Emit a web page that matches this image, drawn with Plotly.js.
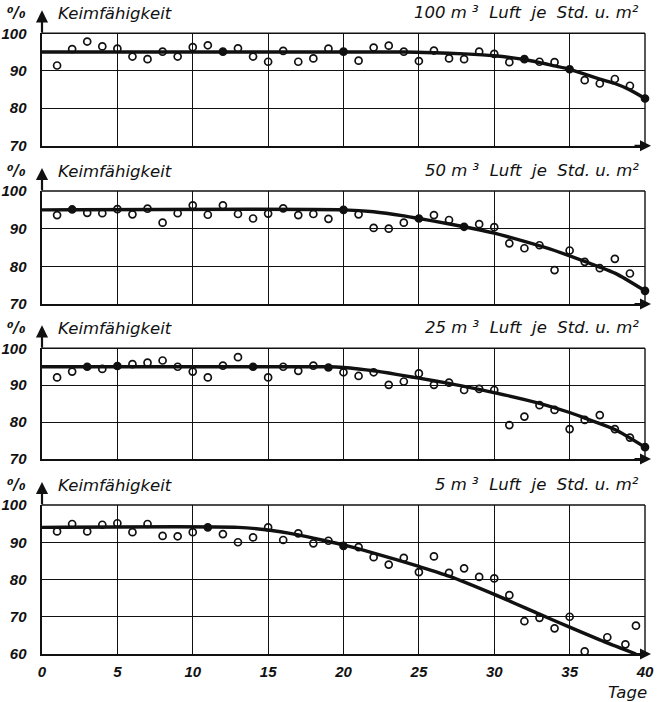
<!DOCTYPE html>
<html><head><meta charset="utf-8">
<script src="https://cdn.plot.ly/plotly-3.0.1.min.js"></script>
<style>html,body{margin:0;padding:0;background:#fff}#chart{width:657px;height:702px}</style>
</head><body><div id="chart"></div>
<script>
// ---- data ----
const panelTitles = ["100 m ³  Luft  je  Std. u. m²", "50 m ³  Luft  je  Std. u. m²", "25 m ³  Luft  je  Std. u. m²", "5 m ³  Luft  je  Std. u. m²"];
const yLabel = "Keimfähigkeit";
const unitLabel = "⁰/₀";
const xLabel = "Tage";
const xTicks = [0, 5, 10, 15, 20, 25, 30, 35, 40];
const yTicksTop = [70, 80, 90, 100];
const yTicksBottom = [60, 70, 80, 90, 100];

const days = [1,2,3,4,5,6,7,8,9,10,11,12,13,14,15,16,17,18,19,20,21,22,23,24,25,26,27,28,29,30,31,32,33,34,35,36,37,38,39,40];
const days4 = [1,2,3,4,5,6,7,8,9,10,11,12,13,14,15,16,17,18,19,20,21,22,23,24,25,26,27,28,29,30,31,32,33,34,35,36,37.5,38.7,39.4];

const vals100 = [91.4,95.8,97.8,96.5,95.9,93.8,93.1,95.1,93.8,96.3,96.8,95.1,96.0,93.8,92.4,95.3,92.4,93.3,95.9,95.1,92.7,96.2,96.7,95.1,92.6,95.4,93.3,93.1,95.1,94.5,92.3,93.1,92.4,92.3,90.4,87.5,86.6,87.8,86.0,82.6];
const vals50 = [93.6,95.1,94.2,94.1,95.2,93.8,95.3,91.6,94.1,96.2,93.7,96.2,93.9,92.7,94.0,95.4,93.6,93.9,92.6,95.0,93.8,90.2,90.0,91.6,92.7,93.6,92.3,90.5,91.2,90.4,86.1,84.8,85.6,79.0,84.2,81.2,79.5,82.0,78.1,73.5];
const vals25 = [92.1,93.7,95.0,94.4,95.2,95.7,96.1,96.7,95.0,93.7,92.1,95.3,97.6,95.0,92.1,95.0,93.9,95.3,94.8,93.5,92.5,93.5,90.1,91.0,93.2,90.1,90.7,88.7,89.0,88.7,79.2,81.5,84.6,83.3,78.1,80.6,81.9,78.1,75.8,73.2];
const vals5 = [92.9,94.9,92.9,94.7,95.1,92.7,94.9,91.7,91.6,92.7,94.0,92.2,90.0,91.3,94.0,90.6,92.4,89.7,90.4,89.0,88.7,86.0,84.0,85.8,82.0,86.2,81.8,83.0,80.7,80.3,75.8,68.8,69.7,66.9,70.0,60.7,64.5,62.6,67.6];

// points drawn filled (lying on the curve)
const filled100 = [12, 20, 32, 35, 40];
const filled50 = [2, 20, 25, 28, 40];
const filled25 = [3, 5, 14, 19, 40];
const filled5 = [11, 20];

// fitted curves
const curveX100 = [0,20,24,26,28,30,32,34,35,36,37,38,39,40];
const curveY100 = [95,95,95,94.8,94.5,94.0,93.0,91.3,90.4,89.1,87.8,86.6,84.9,82.6];
const curveX50 = [0,20,22,24,25,26,28,30,32,34,36,38,40];
const curveY50 = [95,95,94.5,93.4,92.7,92.0,90.5,88.8,86.6,84.2,81.3,78.2,73.5];
const curveX25 = [0,19,20,21,22,23,24,25,27,28,30,33,35,36,38,40];
const curveY25 = [95,95,94.8,94.4,93.9,93.3,92.6,91.9,90.5,89.7,88.0,85.1,82.6,81.1,78.0,73.2];
const curveX5 = [0,13,15,17,19,20,22,25,27,30,33,35,37,39.4];
const curveY5 = [94,94,93.3,92.0,90.2,89.3,87.1,83.5,80.9,76.0,70.7,67.2,63.8,60];

// ---- build ----
const panels = [
  {x: days, y: vals100, f: filled100, cx: curveX100, cy: curveY100, ticks: yTicksTop},
  {x: days, y: vals50, f: filled50, cx: curveX50, cy: curveY50, ticks: yTicksTop},
  {x: days, y: vals25, f: filled25, cx: curveX25, cy: curveY25, ticks: yTicksTop},
  {x: days4, y: vals5, f: filled5, cx: curveX5, cy: curveY5, ticks: yTicksBottom}
];

const H = 702, mt = 33, mb = 48, plotH = H - mt - mb;
const pxTop = [33.3, 191, 348.3, 505];
const pxBot = [145.7, 304, 459, 654];
const frac = p => (H - mb - p) / plotH;

const ink = "#111";
const tickFont = {family: "Liberation Sans", size: 15, color: ink, weight: "bold", style: "italic"};
const textFont = {family: "DejaVu Sans", size: 16.5, color: ink, style: "italic"};

const traces = [];
const layout = {
  width: 657, height: 702,
  margin: {l: 42, r: 12, t: mt, b: mb},
  paper_bgcolor: "#fff", plot_bgcolor: "#fff",
  showlegend: false,
  annotations: [], shapes: []
};

panels.forEach((p, i) => {
  const n = i + 1;
  const xa = n === 1 ? "x" : "x" + n;
  const ya = n === 1 ? "y" : "y" + n;
  const last = i === 3;
  traces.push({
    type: "scatter", mode: "lines", x: p.cx, y: p.cy, xaxis: xa, yaxis: ya,
    line: {color: ink, width: 3.4, shape: "spline", smoothing: 0.7},
    cliponaxis: false, hoverinfo: "skip"
  });
  traces.push({
    type: "scatter", mode: "markers", x: p.x, y: p.y, xaxis: xa, yaxis: ya,
    marker: {
      symbol: p.x.map(d => p.f.includes(d) ? "circle" : "circle-open"),
      size: 7, color: ink, line: {color: ink, width: 1.7}
    },
    cliponaxis: false
  });
  const yr = last ? [60, 100] : [70, 100];
  layout["xaxis" + (n === 1 ? "" : n)] = {
    domain: [0, 1], anchor: ya, range: [0, 40],
    tickvals: xTicks, ticktext: xTicks.map(String),
    showticklabels: last, tickfont: tickFont, ticks: "", ticklabelstandoff: 3,
    showgrid: true, gridcolor: ink, gridwidth: 1.2,
    showline: true, linecolor: ink, linewidth: 2, zeroline: false, fixedrange: true
  };
  layout["yaxis" + (n === 1 ? "" : n)] = {
    domain: [frac(pxBot[i]), frac(pxTop[i])], anchor: xa, range: yr,
    tickvals: p.ticks, ticktext: p.ticks.map(String),
    tickfont: tickFont, ticks: "", ticklabelstandoff: 10,
    showgrid: true, gridcolor: ink, gridwidth: 1.2,
    showline: true, linecolor: ink, linewidth: 2.5, zeroline: false, fixedrange: true
  };
  const top = frac(pxTop[i]);
  const bot = frac(pxBot[i]);
  // border top and right
  layout.shapes.push({type: "line", xref: "paper", yref: "paper", x0: 0, x1: 1, y0: top, y1: top, line: {color: ink, width: 1.4}});
  layout.shapes.push({type: "line", xref: "paper", yref: "paper", x0: 1, x1: 1, y0: bot, y1: top, line: {color: ink, width: 1.4}});
  // y axis arrow
  layout.annotations.push({xref: "paper", yref: "paper", x: 0, y: top + 23 / plotH, ax: 0, ay: 24, axref: "pixel", ayref: "pixel",
    text: "", showarrow: true, arrowhead: 2, arrowsize: 1.1, arrowwidth: 2.2, arrowcolor: ink});
  // x axis arrow
  layout.annotations.push({xref: "paper", yref: "paper", x: 1 + 6 / 603, y: bot, ax: -18, ay: 0,
    text: "", showarrow: true, arrowhead: 2, arrowsize: 1.1, arrowwidth: 2, arrowcolor: ink});
  // labels
  layout.annotations.push({xref: "paper", yref: "paper", x: -37 / 603, y: top + 20 / plotH, xanchor: "left", yanchor: "middle",
    text: unitLabel, showarrow: false, font: {family: "DejaVu Sans", size: 15, color: ink, weight: "bold", style: "italic"}});
  layout.annotations.push({xref: "paper", yref: "paper", x: 14 / 603, y: top + 20 / plotH, xanchor: "left", yanchor: "middle",
    text: yLabel, showarrow: false, font: textFont});
  layout.annotations.push({xref: "paper", yref: "paper", x: 599 / 603, y: top + 21 / plotH, xanchor: "right", yanchor: "middle",
    text: panelTitles[i], showarrow: false, font: textFont});
});
layout.annotations.push({xref: "paper", yref: "paper", x: 1.006, y: -38 / plotH, xanchor: "right", yanchor: "middle",
  text: xLabel, showarrow: false, font: textFont});

Plotly.newPlot("chart", traces, layout, {staticPlot: true, displayModeBar: false});
</script>
</body></html>
